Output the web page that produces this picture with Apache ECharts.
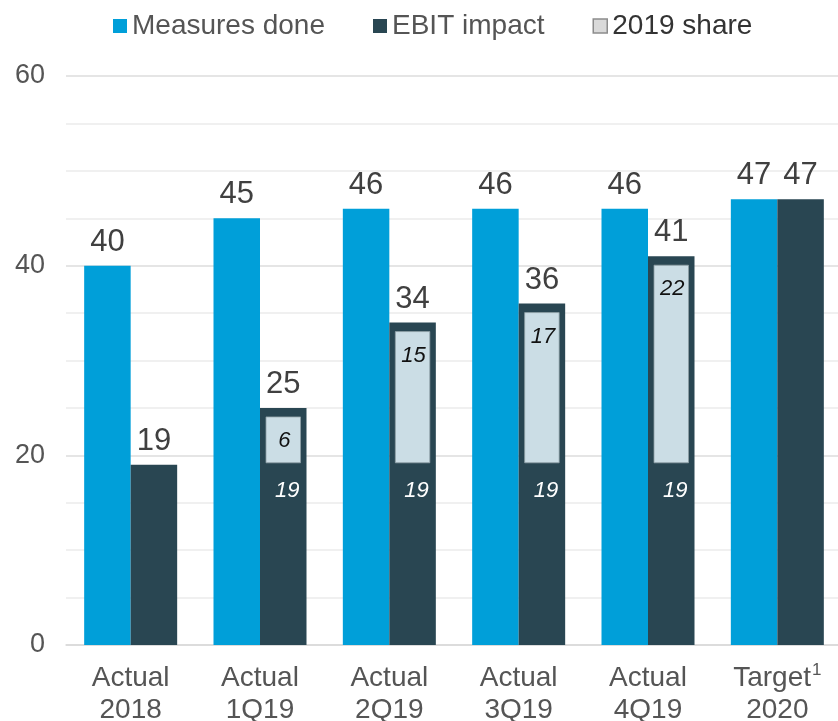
<!DOCTYPE html>
<html>
<head>
<meta charset="utf-8">
<script src="https://cdn.jsdelivr.net/npm/echarts@6/dist/echarts.min.js"></script>
<style>
    html, body { margin: 0; padding: 0; background: #fff; }
    #chart { width: 838px; height: 721px; }
</style>
</head>
<body>
<div id="chart"></div>
<script>
// 数据
var categories = ['Actual\n2018', 'Actual\n1Q19', 'Actual\n2Q19', 'Actual\n3Q19', 'Actual\n4Q19', 'Target{sup|1}\n2020'];
var measuresDone = [40, 45, 46, 46, 46, 47];
var ebitImpact = [19, 25, 34, 36, 41, 47];
var shareBase = [null, 19, 19, 19, 19, null]; // 2018 部分
var share2019 = [null, 6, 15, 17, 22, null];   // 2019 share

var BAR_W = 46.5;
var FONT = 'Liberation Sans, Arial, sans-serif';

var shareData = [];
for (var i = 0; i < categories.length; i++) {
    if (share2019[i] != null) shareData.push([i, shareBase[i], share2019[i]]);
}

var chart = echarts.init(document.getElementById('chart'));

// 2019 share 内框 + 标签
function renderShare(params, api) {
    var idx = api.value(0), base = api.value(1), share = api.value(2);
    var bottom = api.coord([idx, base]);
    var top = api.coord([idx, base + share]);
    var x0 = bottom[0] + 6;
    var w = BAR_W - 12;
    var y0 = top[1] + 9;
    var h = bottom[1] - 2 - y0;
    return {
        type: 'group',
        children: [
            {
                type: 'rect',
                shape: { x: x0, y: y0, width: w, height: h },
                style: { fill: '#cbdde5', stroke: '#8e9ea5', lineWidth: 0.8 }
            },
            {
                type: 'text',
                style: {
                    x: x0 + w / 2 + 1, y: y0 + 24, text: String(share),
                    align: 'center', verticalAlign: 'middle',
                    font: 'italic 22px ' + FONT, fill: '#111'
                }
            },
            {
                type: 'text',
                style: {
                    x: bottom[0] + BAR_W / 2 + 4, y: bottom[1] + 26, text: String(base),
                    align: 'center', verticalAlign: 'middle',
                    font: 'italic 22px ' + FONT, fill: '#fff'
                }
            }
        ]
    };
}

var option = {
    animation: false,
    textStyle: { fontFamily: FONT },
    legend: {
        top: 7,
        left: 108,
        itemWidth: 14,
        itemHeight: 14,
        itemGap: 48,
        textStyle: { fontSize: 28, color: '#555', fontFamily: FONT },
        data: [
            { name: 'Measures done', icon: 'rect' },
            { name: 'EBIT impact', icon: 'rect' },
            { name: '2019 share', icon: 'rect', itemStyle: { color: '#d9d9d9', borderColor: '#8c8c8c', borderWidth: 1.5 },
              textStyle: { color: '#333' } }
        ]
    },
    grid: { left: 66, width: 776, top: 76, bottom: 76, outerBoundsMode: 'none' },
    xAxis: {
        type: 'category',
        data: categories,
        axisTick: { show: false },
        axisLine: { lineStyle: { color: '#d9d9d9', width: 1.5 } },
        axisLabel: {
            interval: 0,
            margin: 17,
            fontSize: 28,
            lineHeight: 32,
            color: '#555',
            fontFamily: FONT,
            rich: {
                sup: { fontSize: 17, color: '#555', verticalAlign: 'top', padding: [0, 0, 18, 1] }
            }
        }
    },
    yAxis: {
        type: 'value',
        min: 0,
        max: 60,
        interval: 20,
        axisLine: { show: false },
        axisTick: { show: false },
        axisLabel: { fontSize: 27, color: '#555', margin: 21, fontFamily: FONT },
        splitLine: { lineStyle: { color: '#dcdcdc', width: 1.5 } },
        minorTick: { show: false, splitNumber: 4 },
        minorSplitLine: { show: true, lineStyle: { color: '#ececec', width: 1.5 } }
    },
    series: [
        {
            name: 'Measures done',
            type: 'bar',
            data: measuresDone,
            barWidth: BAR_W,
            barGap: 0,
            itemStyle: { color: '#009fd9' },
            label: { show: true, position: 'top', distance: 8, fontSize: 31, color: '#404040', fontFamily: FONT }
        },
        {
            name: 'EBIT impact',
            type: 'bar',
            data: ebitImpact,
            barWidth: BAR_W,
            barGap: 0,
            itemStyle: { color: '#294652' },
            label: { show: true, position: 'top', distance: 8, fontSize: 31, color: '#404040', fontFamily: FONT }
        },
        {
            name: '2019 share',
            type: 'custom',
            data: shareData,
            z: 5,
            itemStyle: { color: '#d9d9d9' },
            renderItem: renderShare
        }
    ]
};

chart.setOption(option);
</script>
</body>
</html>
